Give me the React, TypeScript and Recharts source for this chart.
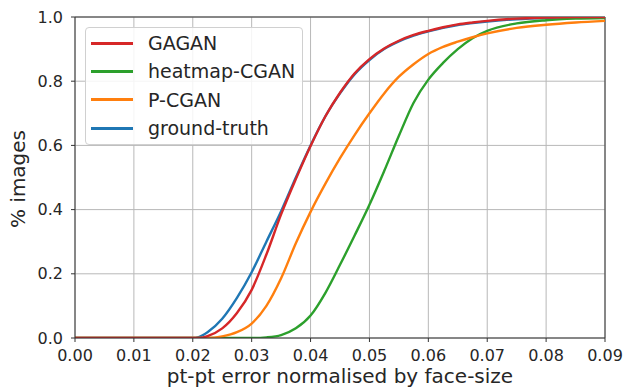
import { CartesianGrid, Legend, Line, LineChart, ReferenceLine, XAxis, YAxis } from "recharts";

const xValues = [
  0, 0.01, 0.02, 0.021, 0.0225, 0.025, 0.0275, 0.03, 0.0325, 0.035, 0.0375, 0.04, 0.0425, 0.045,
  0.0475, 0.05, 0.0525, 0.055, 0.0575, 0.06, 0.0625, 0.065, 0.0675, 0.07, 0.075, 0.08, 0.085, 0.09
];
const groundTruth = [
  0, 0, 0, 0.003, 0.018, 0.06, 0.125, 0.205, 0.3, 0.395, 0.5, 0.6, 0.69, 0.762,
  0.822, 0.866, 0.9, 0.924, 0.942, 0.955, 0.966, 0.975, 0.981, 0.986, 0.993, 0.997, 0.999, 1.0
];
const gagan = [
  0, 0, 0, 0, 0.006, 0.03, 0.078, 0.15, 0.26, 0.385, 0.495, 0.598, 0.69, 0.764,
  0.825, 0.869, 0.902, 0.926, 0.944, 0.957, 0.968, 0.977, 0.983, 0.988, 0.995, 0.998, 1.0, 1.0
];
const pCgan = [
  0, 0, 0, 0, 0, 0.005, 0.018, 0.045, 0.1, 0.186, 0.295, 0.393, 0.48, 0.56,
  0.633, 0.7, 0.762, 0.814, 0.853, 0.885, 0.907, 0.923, 0.937, 0.949, 0.966, 0.976, 0.983, 0.988
];
const heatmapCgan = [
  0, 0, 0, 0, 0, 0, 0, 0, 0.002, 0.009, 0.03, 0.07, 0.14, 0.228,
  0.32, 0.415, 0.52, 0.63, 0.733, 0.805, 0.857, 0.9, 0.934, 0.957, 0.98, 0.99, 0.995, 0.997
];

const xTicks = [0, 0.01, 0.02, 0.03, 0.04, 0.05, 0.06, 0.07, 0.08, 0.09];
const yTicks = [0, 0.2, 0.4, 0.6, 0.8, 1.0];

const legendItems = [
  { name: "GAGAN", color: "#d62728" },
  { name: "heatmap-CGAN", color: "#2ca02c" },
  { name: "P-CGAN", color: "#ff7f0e" },
  { name: "ground-truth", color: "#1f77b4" }
];

const data = xValues.map((x, i) => ({
  x,
  gagan: gagan[i],
  heatmap: heatmapCgan[i],
  pcgan: pCgan[i],
  truth: groundTruth[i]
}));

const FONT = "'DejaVu Sans', sans-serif";
const TEXT = "#262626";

function LegendBox() {
  return (
    <div
      style={{
        width: 218,
        height: 118,
        boxSizing: "border-box",
        border: "1px solid #d0d0d0",
        borderRadius: 4,
        background: "rgba(255,255,255,0.85)",
        fontFamily: FONT,
        fontSize: 19,
        color: TEXT,
        paddingTop: 1
      }}
    >
      {legendItems.map((item) => (
        <div key={item.name} style={{ height: 28.3, display: "flex", alignItems: "center" }}>
          <span
            style={{
              display: "inline-block",
              marginLeft: 5,
              width: 42,
              height: 3,
              background: item.color
            }}
          />
          <span style={{ marginLeft: 15, lineHeight: "20px" }}>{item.name}</span>
        </div>
      ))}
    </div>
  );
}

function XTitle({ viewBox }: { viewBox?: { x: number; width: number } }) {
  if (!viewBox) return null;
  return (
    <text x={viewBox.x + viewBox.width / 2} y={383} textAnchor="middle" fontFamily={FONT} fontSize={20} fill={TEXT}>
      pt-pt error normalised by face-size
    </text>
  );
}

function YTitle() {
  return (
    <text
      x={25}
      y={179}
      transform="rotate(-90, 25, 179)"
      textAnchor="middle"
      fontFamily={FONT}
      fontSize={20}
      fill={TEXT}
    >
      % images
    </text>
  );
}

export default function App() {
  return (
    <div style={{ position: "absolute", left: 0, top: 0, background: "#fff" }}>
      <LineChart width={626} height={389} data={data} margin={{ top: 17, right: 21, left: 0, bottom: 0 }}>
        <CartesianGrid stroke="#b8b8b8" strokeWidth={1} />
        <XAxis
          dataKey="x"
          type="number"
          domain={[0, 0.09]}
          ticks={xTicks}
          allowDataOverflow
          height={51}
          tickSize={4}
          tickMargin={8}
          stroke="#333"
          tick={{ fill: TEXT, fontFamily: FONT, fontSize: 16 }}
          tickFormatter={(v: number) => v.toFixed(2)}
          label={<XTitle />}
        />
        <YAxis
          type="number"
          domain={[0, 1]}
          ticks={yTicks}
          allowDataOverflow
          width={75}
          tickSize={4}
          tickMargin={8}
          stroke="#333"
          tick={{ fill: TEXT, fontFamily: FONT, fontSize: 16 }}
          tickFormatter={(v: number) => v.toFixed(1)}
          label={<YTitle />}
        />
        <ReferenceLine x={0.09} stroke="#333" strokeWidth={1} ifOverflow="visible" />
        <ReferenceLine y={1} stroke="#333" strokeWidth={1} ifOverflow="visible" />
        <Line type="monotone" dataKey="truth" stroke="#1f77b4" strokeWidth={2.4} dot={false} isAnimationActive={false} />
        <Line type="monotone" dataKey="heatmap" stroke="#2ca02c" strokeWidth={2.4} dot={false} isAnimationActive={false} />
        <Line type="monotone" dataKey="pcgan" stroke="#ff7f0e" strokeWidth={2.4} dot={false} isAnimationActive={false} />
        <Line type="monotone" dataKey="gagan" stroke="#d62728" strokeWidth={2.4} dot={false} isAnimationActive={false} />
        <Legend
          layout="vertical"
          align="center"
          verticalAlign="middle"
          content={<LegendBox />}
          wrapperStyle={{ left: 85, top: 27, width: 218, height: 118 }}
        />
      </LineChart>
    </div>
  );
}
